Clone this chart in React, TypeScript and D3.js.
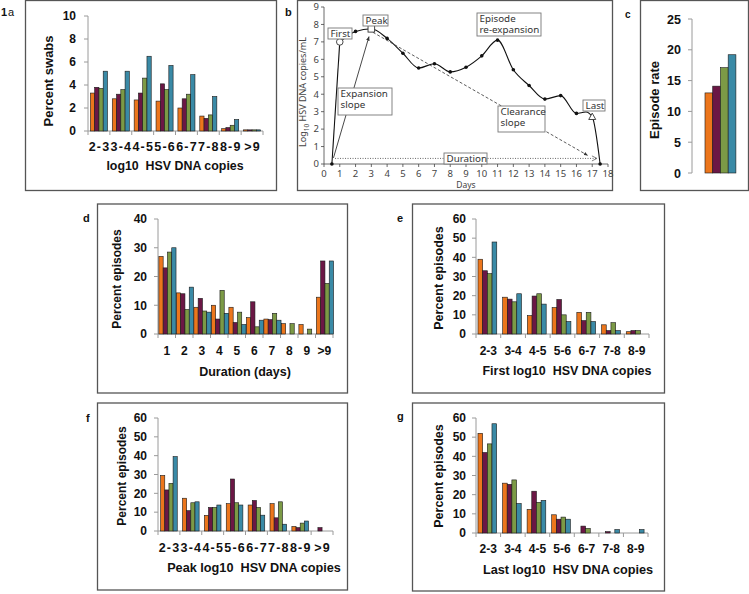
import React from 'react';
import * as d3 from 'd3';

const COLORS = ['#EC761C', '#6B1745', '#7C9A46', '#3A8AA6'];

// ---- Panel a: percent swabs by log10 copies
const aCategories = ['2-3', '3-4', '4-5', '5-6', '6-7', '7-8', '8-9', '>9'];
const aOrange = [3.3, 2.8, 2.7, 2.6, 2.0, 1.3, 0.2, 0.1];
const aMaroon = [3.8, 3.2, 3.3, 4.1, 2.8, 1.1, 0.3, 0.1];
const aGreen = [3.7, 3.6, 4.6, 3.6, 3.2, 1.4, 0.5, 0.1];
const aTeal = [5.2, 5.2, 6.5, 5.7, 4.9, 3.0, 1.0, 0.1];
const aTicks = [0, 2, 4, 6, 8, 10];

// ---- Panel c: episode rate
const cCategories = [''];
const cOrange = [13];
const cMaroon = [14.1];
const cGreen = [17.1];
const cTeal = [19.2];
const cTicks = [0, 5, 10, 15, 20, 25];

// ---- Panel d: duration
const dCategories = ['1', '2', '3', '4', '5', '6', '7', '8', '9', '>9'];
const dOrange = [27, 14.3, 9.3, 10, 9.3, 5.7, 5.2, 3.6, 3.3, 12.8];
const dMaroon = [23, 14, 12.4, 5.2, 4, 11.2, 5, 0, 0, 25.4];
const dGreen = [28.5, 8.5, 8, 15.2, 7.6, 2.5, 7.2, 3.6, 1.7, 17.6];
const dTeal = [30, 16.3, 7.6, 7.2, 3.3, 4.8, 4.8, 0, 0, 25.4];
const dTicks = [0, 10, 20, 30, 40];

// ---- Panel e: first log10 copies
const eCategories = ['2-3', '3-4', '4-5', '5-6', '6-7', '7-8', '8-9'];
const eOrange = [39, 19.2, 9.6, 13.8, 11.3, 4.8, 1.2];
const eMaroon = [33, 18.2, 19.8, 18, 7, 1.8, 1.8];
const eGreen = [31.5, 16.8, 21, 10, 11.3, 5.9, 1.8];
const eTeal = [48, 21, 15.6, 6.5, 6.5, 1.8, 0];
const eTicks = [0, 10, 20, 30, 40, 50, 60];

// ---- Panel f: peak log10 copies
const fCategories = ['2-3', '3-4', '4-5', '5-6', '6-7', '7-8', '8-9', '>9'];
const fOrange = [29.5, 17.4, 8.3, 14.5, 13.8, 14.5, 2.4, 0];
const fMaroon = [21.8, 10.8, 12.5, 27.6, 16.2, 7, 1.8, 1.8];
const fGreen = [25.3, 15, 12.5, 15, 12.5, 15.5, 4.2, 0];
const fTeal = [39.5, 15.5, 13.8, 13.8, 8.4, 3.6, 5.3, 0];
const fTicks = [0, 10, 20, 30, 40, 50, 60];

// ---- Panel g: last log10 copies
const gCategories = ['2-3', '3-4', '4-5', '5-6', '6-7', '7-8', '8-9'];
const gOrange = [52, 26, 12.3, 9.5, 0, 0, 0];
const gMaroon = [42, 25.4, 21.8, 7.2, 3.6, 0.7, 0];
const gGreen = [46.5, 27.7, 16, 8.3, 2.4, 0, 0];
const gTeal = [57, 15.4, 17, 7.2, 0, 1.8, 1.8];
const gTicks = [0, 10, 20, 30, 40, 50, 60];

// ---- Panel b: schematic episode curve
const bStartDay = 0.5;
const bStartVal = 0;
const bCurveDays = [1, 2, 3, 4, 5, 6, 7, 8, 9, 10, 11, 12, 13, 14, 15, 16, 16.6, 17, 17.5];
const bCurveVals = [7, 7.6, 7.75, 7.2, 6.35, 5.5, 5.75, 5.28, 5.55, 6.2, 7.1, 5.4, 4.5, 3.72, 3.92, 2.9, 2.98, 2.7, 0];
const bCurveMarks = ['first', 'dot', 'peak', 'dot', 'dot', 'dot', 'dot', 'dot', 'dot', 'dot', 'dot', 'dot', 'dot', 'dot', 'dot', 'dot', 'none', 'last', 'dot'];
const bXTicks = d3.range(0, 19);
const bYTicks = d3.range(0, 10);
const bExpansion = [[0.6, 0.35], [2.85, 7.3]];
const bClearance = [[3.1, 7.55], [16.7, 0.5]];
const bDuration = [[0.7, 0.32], [17.3, 0.32]];

const FONT = "'Liberation Sans', Arial, sans-serif";
const BFONT = "'Noto Sans', 'DejaVu Sans', sans-serif";

type BarCfg = {
  cats: string[];
  series: number[][];
  yMax: number;
  ticks: number[];
  ax0: number;
  ax1: number;
  yZero: number;
  yTop: number;
  pad: number;
  bw: number;
  tickRight: number;
  catY: number;
  catFs: number;
  catSpacing: number;
  title: string;
  titleX: number;
  titleY: number;
  ylab: string;
  ylabX: number;
  ylabY: number;
  fs: number;
  ylabFs: number;
  titleFs: number;
  showXAxis: boolean;
};

function BarPanel({ c }: { c: BarCfg }) {
  const x = d3.scaleBand<string>().domain(c.cats).range([c.ax0, c.ax1]).paddingInner(0).paddingOuter(0);
  const y = d3.scaleLinear().domain([0, c.yMax]).range([c.yZero, c.yTop]);
  const step = x.step();
  const bw = step * c.bw;
  return (
    <g fontFamily={FONT}>
      {/* y axis */}
      <line x1={c.ax0} x2={c.ax0} y1={y(c.yMax)} y2={y(0)} stroke="#9a9a9a" strokeWidth={1} />
      {c.ticks.map((t) => (
        <g key={'yt' + t}>
          <line x1={c.ax0 - 4} x2={c.ax0} y1={y(t)} y2={y(t)} stroke="#9a9a9a" strokeWidth={1} />
          <text x={c.tickRight} y={y(t)} dy="0.36em" textAnchor="end" fontSize={c.fs} fontWeight="bold" fill="#111">
            {t}
          </text>
        </g>
      ))}
      {c.showXAxis && (
        <g>
          <line x1={c.ax0} x2={c.ax1} y1={y(0)} y2={y(0)} stroke="#9a9a9a" strokeWidth={1} />
          {c.cats.map((k, i) => (
            <line key={'xt' + i} x1={x(k)! + step} x2={x(k)! + step} y1={y(0)} y2={y(0) + 4} stroke="#9a9a9a" strokeWidth={1} />
          ))}
          <line x1={c.ax0} x2={c.ax0} y1={y(0)} y2={y(0) + 4} stroke="#9a9a9a" strokeWidth={1} />
          {c.cats.map((k, i) => (
            <text
              key={'xl' + i}
              x={x(k)! + step / 2 + c.catSpacing / 2}
              y={c.catY}
              dy="0.36em"
              textAnchor="middle"
              fontSize={c.catFs}
              letterSpacing={c.catSpacing}
              fontWeight="bold"
              fill="#111"
            >
              {k}
            </text>
          ))}
        </g>
      )}
      {/* bars */}
      {c.series.map((s, si) =>
        s.map((v, i) =>
          v > 0 ? (
            <rect
              key={'b' + si + '-' + i}
              x={x(c.cats[i])! + step * c.pad + si * bw}
              y={y(v)}
              width={bw}
              height={y(0) - y(v)}
              fill={COLORS[si]}
              stroke="#1a1a1a"
              strokeWidth={0.6}
            />
          ) : null
        )
      )}
      {c.title && (
        <text
          x={c.titleX}
          y={c.titleY}
          dy="0.36em"
          textAnchor="middle"
          fontSize={c.titleFs}
          fontWeight="bold"
          fill="#111"
          style={{ whiteSpace: 'pre' }}
        >
          {c.title}
        </text>
      )}
      <text
        transform={`translate(${c.ylabX},${c.ylabY}) rotate(-90)`}
        dy="0.36em"
        textAnchor="middle"
        fontSize={c.ylabFs}
        fontWeight="bold"
        fill="#111"
      >
        {c.ylab}
      </text>
    </g>
  );
}

function PanelB() {
  const x = d3.scaleLinear().domain([0, 18]).range([324, 608]);
  const y = d3.scaleLinear().domain([0, 9]).range([164, 7]);
  const curvePts = bCurveDays.map((d, i) => [d, bCurveVals[i]] as [number, number]);
  const line = d3
    .line<[number, number]>()
    .x((d) => x(d[0]))
    .y((d) => y(d[1]))
    .curve(d3.curveMonotoneX);
  const straight = d3
    .line<number[]>()
    .x((d) => x(d[0]))
    .y((d) => y(d[1]));
  const boxes = [
    { lines: ['First'], x: 328, y: 28, w: 24, h: 11 },
    { lines: ['Peak'], x: 363, y: 15, w: 25, h: 11 },
    { lines: ['Episode', 're-expansion'], x: 477, y: 13, w: 64, h: 23 },
    { lines: ['Expansion', 'slope'], x: 338, y: 88, w: 54, h: 27 },
    { lines: ['Clearance', 'slope'], x: 498, y: 106, w: 47, h: 26 },
    { lines: ['Last'], x: 583, y: 100, w: 22, h: 11 },
    { lines: ['Duration'], x: 444, y: 153, w: 43, h: 11 },
  ];
  return (
    <g fontFamily={BFONT}>
      <defs>
        <marker id="arrSolid" viewBox="0 0 10 10" refX="9" refY="5" markerWidth="5" markerHeight="5" orient="auto">
          <path d="M0,1 L10,5 L0,9 z" fill="#333" />
        </marker>
        <marker id="arrOpen" viewBox="0 0 10 10" refX="9" refY="5" markerWidth="7" markerHeight="7" orient="auto">
          <path d="M1,1 L9,5 L1,9" fill="none" stroke="#555" strokeWidth="1.2" />
        </marker>
      </defs>
      {/* axes */}
      <line x1={x(0)} x2={x(0)} y1={y(9)} y2={y(0)} stroke="#444" strokeWidth={0.8} />
      <line x1={x(0)} x2={x(18)} y1={y(0)} y2={y(0)} stroke="#444" strokeWidth={0.8} />
      {bYTicks.map((t) => (
        <g key={'by' + t}>
          <line x1={x(0) - 3} x2={x(0)} y1={y(t)} y2={y(t)} stroke="#444" strokeWidth={0.8} />
          <text x={x(0) - 5} y={y(t)} dy="0.35em" textAnchor="end" fontSize={9.5} fill="#444">
            {t}
          </text>
        </g>
      ))}
      {bXTicks.map((t) => (
        <g key={'bx' + t}>
          <line x1={x(t)} x2={x(t)} y1={y(0)} y2={y(0) + 3} stroke="#444" strokeWidth={0.8} />
          <text x={x(t)} y={174} dy="0.35em" textAnchor="middle" fontSize={9.5} fill="#444">
            {t}
          </text>
        </g>
      ))}
      <text x={466} y={185.5} dy="0.35em" textAnchor="middle" fontSize={8.5} fill="#444">
        Days
      </text>
      <text transform={`translate(303,92) rotate(-90)`} dy="0.35em" textAnchor="middle" fontSize={9} fill="#444">
        Log<tspan fontSize={6.5} dy="3">10</tspan>
        <tspan dy="-3"> HSV DNA copies/mL</tspan>
      </text>
      {/* curve */}
      <path d={straight([[bStartDay, bStartVal], curvePts[0]])!} fill="none" stroke="#111" strokeWidth={1.1} />
      <path d={line(curvePts)!} fill="none" stroke="#111" strokeWidth={1.1} />
      {/* arrows */}
      <path d={straight(bExpansion)!} fill="none" stroke="#333" strokeWidth={0.9} markerEnd="url(#arrSolid)" />
      <path d={straight(bClearance)!} fill="none" stroke="#333" strokeWidth={0.8} strokeDasharray="3,2" markerEnd="url(#arrSolid)" />
      <path d={straight(bDuration)!} fill="none" stroke="#555" strokeWidth={0.9} strokeDasharray="1,1.5" markerEnd="url(#arrOpen)" />
      {/* markers */}
      <circle cx={x(bStartDay)} cy={y(bStartVal)} r={1.8} fill="#111" />
      {curvePts.map((p, i) => {
        const m = bCurveMarks[i];
        const cx = x(p[0]);
        const cy = y(p[1]);
        if (m === 'dot') return <circle key={'m' + i} cx={cx} cy={cy} r={1.8} fill="#111" />;
        if (m === 'first') return <circle key={'m' + i} cx={cx} cy={cy} r={3.3} fill="#fff" stroke="#333" strokeWidth={0.9} />;
        if (m === 'peak') return <rect key={'m' + i} x={cx - 3.3} y={cy - 3.3} width={6.6} height={6.6} fill="#fff" stroke="#333" strokeWidth={0.9} />;
        if (m === 'last')
          return (
            <path
              key={'m' + i}
              d={`M${cx},${cy - 3.8} L${cx + 3.5},${cy + 2.6} L${cx - 3.5},${cy + 2.6} Z`}
              fill="#fff"
              stroke="#333"
              strokeWidth={0.9}
            />
          );
        return null;
      })}
      {/* annotation boxes */}
      {boxes.map((b, i) => (
        <g key={'box' + i}>
          <rect x={b.x} y={b.y} width={b.w} height={b.h} fill="#fff" stroke="#777" strokeWidth={0.9} />
          {b.lines.map((l, j) => (
            <text key={j} x={b.x + 2.5} y={b.y + 8.6 + j * 11.5} fontSize={9.8} fill="#333">
              {l}
            </text>
          ))}
        </g>
      ))}
    </g>
  );
}

export default function App() {
  const panelA: BarCfg = {
    cats: aCategories,
    series: [aOrange, aMaroon, aGreen, aTeal],
    yMax: 10,
    ticks: aTicks,
    ax0: 88,
    ax1: 263,
    yZero: 131,
    yTop: 16,
    pad: 0.11,
    bw: 0.195,
    tickRight: 76,
    catY: 146,
    catFs: 12.5,
    catSpacing: 1.2,
    title: 'log10  HSV DNA copies',
    titleX: 175,
    titleY: 166,
    ylab: 'Percent swabs',
    ylabX: 48,
    ylabY: 81,
    fs: 12,
    ylabFs: 13,
    titleFs: 12.4,
    showXAxis: true,
  };
  const panelC: BarCfg = {
    cats: cCategories,
    series: [cOrange, cMaroon, cGreen, cTeal],
    yMax: 25,
    ticks: cTicks,
    ax0: 692,
    ax1: 748,
    yZero: 173,
    yTop: 19,
    pad: 0.232,
    bw: 0.138,
    tickRight: 681,
    catY: 0,
    catFs: 12,
    catSpacing: 0,
    title: '',
    titleX: 0,
    titleY: 0,
    ylab: 'Episode rate',
    ylabX: 654,
    ylabY: 100,
    fs: 12.5,
    ylabFs: 13,
    titleFs: 12,
    showXAxis: false,
  };
  const panelD: BarCfg = {
    cats: dCategories,
    series: [dOrange, dMaroon, dGreen, dTeal],
    yMax: 40,
    ticks: dTicks,
    ax0: 158,
    ax1: 333,
    yZero: 334,
    yTop: 219,
    pad: 0.05,
    bw: 0.245,
    tickRight: 147,
    catY: 351,
    catFs: 12,
    catSpacing: 0,
    title: 'Duration (days)',
    titleX: 245,
    titleY: 371,
    ylab: 'Percent episodes',
    ylabX: 117,
    ylabY: 279,
    fs: 12,
    ylabFs: 12,
    titleFs: 12.5,
    showXAxis: true,
  };
  const panelE: BarCfg = {
    cats: eCategories,
    series: [eOrange, eMaroon, eGreen, eTeal],
    yMax: 60,
    ticks: eTicks,
    ax0: 476,
    ax1: 649,
    yZero: 334,
    yTop: 219,
    pad: 0.08,
    bw: 0.19,
    tickRight: 466,
    catY: 351,
    catFs: 12,
    catSpacing: 0,
    title: 'First log10  HSV DNA copies',
    titleX: 567,
    titleY: 370,
    ylab: 'Percent episodes',
    ylabX: 438,
    ylabY: 278,
    fs: 12,
    ylabFs: 12.5,
    titleFs: 12.5,
    showXAxis: true,
  };
  const panelF: BarCfg = {
    cats: fCategories,
    series: [fOrange, fMaroon, fGreen, fTeal],
    yMax: 60,
    ticks: fTicks,
    ax0: 158,
    ax1: 333,
    yZero: 531,
    yTop: 418,
    pad: 0.12,
    bw: 0.19,
    tickRight: 147,
    catY: 547,
    catFs: 12.5,
    catSpacing: 1.2,
    title: 'Peak log10  HSV DNA copies',
    titleX: 254,
    titleY: 567,
    ylab: 'Percent episodes',
    ylabX: 122,
    ylabY: 476,
    fs: 12,
    ylabFs: 12,
    titleFs: 12.7,
    showXAxis: true,
  };
  const panelG: BarCfg = {
    cats: gCategories,
    series: [gOrange, gMaroon, gGreen, gTeal],
    yMax: 60,
    ticks: gTicks,
    ax0: 476,
    ax1: 648,
    yZero: 533,
    yTop: 418,
    pad: 0.08,
    bw: 0.19,
    tickRight: 466,
    catY: 549,
    catFs: 12,
    catSpacing: 0,
    title: 'Last log10  HSV DNA copies',
    titleX: 568,
    titleY: 569,
    ylab: 'Percent episodes',
    ylabX: 438,
    ylabY: 476,
    fs: 12,
    ylabFs: 12.5,
    titleFs: 12.7,
    showXAxis: true,
  };
  const frame = { fill: 'none', stroke: '#555', strokeWidth: 1.3 };
  return (
    <svg
      width={749}
      height={594}
      viewBox="0 0 749 594"
      style={{ position: 'absolute', left: 0, top: 0, background: '#fff' }}
    >
      <rect x={0} y={0} width={749} height={594} fill="#fff" />
      {/* frames */}
      <rect x={25.5} y={0.5} width={251} height={190} {...frame} />
      <rect x={297.5} y={0.5} width={315} height={190} {...frame} />
      <rect x={640.5} y={0.5} width={108} height={190} {...frame} />
      <rect x={97.5} y={204} width={250} height={189} {...frame} />
      <rect x={412.5} y={204} width={252} height={189} {...frame} />
      <rect x={97.5} y={403} width={250} height={187} {...frame} />
      <rect x={412.5} y={403} width={252} height={188} {...frame} />
      {/* panel letters */}
      <g fontFamily={FONT} fill="#111">
        <text x={1} y={16} fontSize={11} fontWeight="bold">1</text>
        <text x={8} y={16} fontSize={11}>a</text>
        <text x={285} y={16} fontSize={11} fontWeight="bold">b</text>
        <text x={625} y={18} fontSize={10} fontWeight="bold">c</text>
        <text x={83} y={222} fontSize={11} fontWeight="bold">d</text>
        <text x={397} y={222} fontSize={11} fontWeight="bold">e</text>
        <text x={86} y={422} fontSize={11} fontWeight="bold">f</text>
        <text x={397} y={420} fontSize={11} fontWeight="bold">g</text>
      </g>
      <BarPanel c={panelA} />
      <PanelB />
      <BarPanel c={panelC} />
      <BarPanel c={panelD} />
      <BarPanel c={panelE} />
      <BarPanel c={panelF} />
      <BarPanel c={panelG} />
    </svg>
  );
}
